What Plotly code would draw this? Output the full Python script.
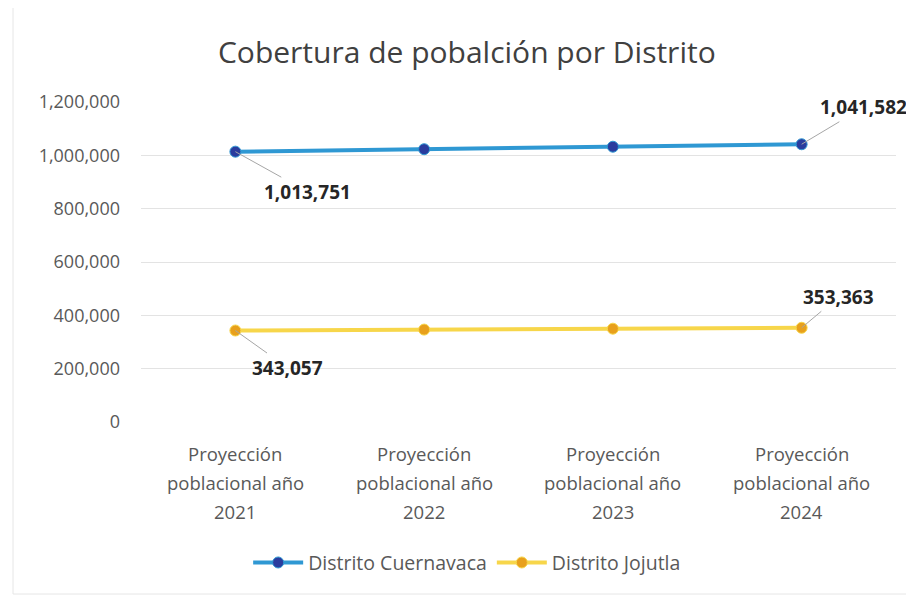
import plotly.graph_objects as go

categories = ["Proyección poblacional año 2021", "Proyección poblacional año 2022",
              "Proyección poblacional año 2023", "Proyección poblacional año 2024"]
cuernavaca = [1013751, 1023000, 1032300, 1041582]
jojutla = [343057, 346500, 349900, 353363]
series_names = ["Distrito Cuernavaca", "Distrito Jojutla"]
y_ticks = [0, 200000, 400000, 600000, 800000, 1000000, 1200000]

FONT = "'Open Sans', Lato, sans-serif"
GRAY = "#595959"

fig = go.Figure()
fig.add_trace(go.Scatter(
    x=categories, y=cuernavaca, name=series_names[0], mode="lines+markers",
    line=dict(color="#2F98D3", width=4),
    marker=dict(color="#2A3C9E", size=11, line=dict(color="#2F98D3", width=1)),
))
fig.add_trace(go.Scatter(
    x=categories, y=jojutla, name=series_names[1], mode="lines+markers",
    line=dict(color="#F7D64A", width=4),
    marker=dict(color="#E8A01C", size=11, line=dict(color="#F7D64A", width=1)),
))

# data labels (first and last points)
def lab(xc, yv, ax, ay):
    fig.add_annotation(x=xc, y=yv, xref="x", yref="y", text=f"<b>{yv:,}</b>",
                       showarrow=True, arrowhead=0, arrowwidth=1, arrowcolor="#A6A6A6",
                       ax=ax, ay=ay, font=dict(family=FONT, size=19, color="#262626"))

lab(categories[0], cuernavaca[0], 72, 40)
lab(categories[-1], cuernavaca[-1], 62, -37)
lab(categories[0], jojutla[0], 52, 37)
lab(categories[-1], jojutla[-1], 37, -31)

# category labels as three lines each
for c in categories:
    words = c.split(" ")
    lines = [words[0], " ".join(words[1:3]), words[3]]
    for i, ln in enumerate(lines):
        fig.add_annotation(x=c, y=0, xref="x", yref="paper", text=ln, showarrow=False,
                           yanchor="middle", yshift=-31 - 29 * i,
                           font=dict(family=FONT, size=18.5, color=GRAY))

# outer frame
fig.add_shape(type="rect", xref="paper", yref="paper",
              x0=-0.1695, x1=1.03, y0=-0.5375, y1=1.30,
              line=dict(color="#E6E6E6", width=1))

fig.update_layout(
    width=914, height=598,
    margin=dict(l=133, r=26, t=94, b=184),
    paper_bgcolor="white", plot_bgcolor="white",
    title=dict(text="Cobertura de pobalción por Distrito", x=0.502, xanchor="center",
               y=0.925, yanchor="middle",
               font=dict(family=FONT, size=30, color="#404040")),
    xaxis=dict(showticklabels=False, showgrid=False, zeroline=False, showline=False,
               range=[-0.5, 3.5]),
    yaxis=dict(range=[0, 1200000], tickvals=y_ticks, tickformat=",d",
               gridcolor="#E3E3E3", zeroline=False, showline=False,
               ticks="", ticklabelstandoff=20,
               tickfont=dict(family=FONT, size=18, color=GRAY)),
    legend=dict(orientation="h", x=0.432, xanchor="center", y=-0.44, yanchor="middle",
                font=dict(family=FONT, size=19.5, color=GRAY), itemwidth=50,
                tracegroupgap=0),
    showlegend=True,
)

fig.write_html("out.html")
